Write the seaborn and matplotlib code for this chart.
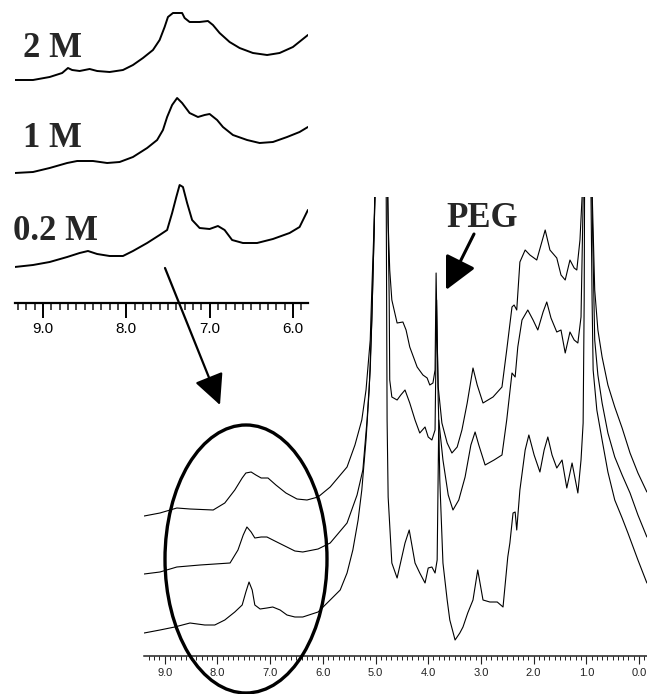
import numpy as np
import pandas as pd
import matplotlib
matplotlib.use("Agg")
import matplotlib.pyplot as plt
import seaborn as sns
from matplotlib.patches import Ellipse
from matplotlib.ticker import FixedLocator, FixedFormatter, MultipleLocator

# ---------------- data (chemical shift in ppm, intensity in a.u.) ----------------
main_2M_ppm = [9.39, 9.09, 8.77, 8.52, 8.08, 7.86, 7.67, 7.53, 7.46, 7.36, 7.27, 7.17, 7.04, 6.89, 6.70,
               6.49, 6.30, 6.09, 5.86, 5.54, 5.39, 5.26, 5.18, 5.10, 5.07, 5.03, 4.99, 4.95, 4.82, 4.78,
               4.76, 4.73, 4.69, 4.59, 4.48, 4.42, 4.35, 4.21, 4.10, 4.02, 3.97, 3.91, 3.87, 3.85, 3.83,
               3.81, 3.74, 3.64, 3.55, 3.45, 3.36, 3.26, 3.15, 3.07, 2.96, 2.77, 2.60, 2.51, 2.41, 2.37,
               2.32, 2.26, 2.16, 2.07, 1.94, 1.78, 1.69, 1.56, 1.48, 1.40, 1.31, 1.23, 1.18, 1.12, 1.08,
               1.06, 1.03, 0.93, 0.91, 0.87, 0.84, 0.78, 0.70, 0.59, 0.46, 0.32, 0.17, 0.02, -0.15]
main_2M_int = [140, 143, 148, 147, 146, 153, 166, 178, 183, 184, 181, 178, 178, 171, 163,
               157, 156, 159, 169, 189, 211, 236, 266, 316, 366, 426, 506, 700, 700, 506,
               433, 386, 356, 333, 334, 326, 309, 289, 281, 278, 271, 273, 286, 383, 316,
               269, 233, 213, 203, 209, 226, 253, 288, 271, 253, 259, 269, 306, 349, 351,
               346, 394, 406, 401, 396, 426, 406, 398, 381, 376, 396, 388, 386, 416, 459,
               506, 700, 700, 506, 426, 366, 326, 299, 271, 249, 228, 203, 183, 164]

main_1M_ppm = [9.39, 9.09, 8.77, 8.33, 7.76, 7.61, 7.51, 7.44, 7.36, 7.29, 7.17, 7.06, 6.91, 6.72, 6.53,
               6.38, 6.09, 5.86, 5.54, 5.35, 5.24, 5.16, 5.10, 5.07, 5.03, 4.99, 4.95, 4.82, 4.78, 4.74,
               4.73, 4.69, 4.59, 4.52, 4.44, 4.35, 4.25, 4.16, 4.06, 4.00, 3.93, 3.87, 3.84, 3.81, 3.80,
               3.72, 3.62, 3.53, 3.42, 3.30, 3.19, 3.11, 3.04, 2.92, 2.75, 2.60, 2.51, 2.41, 2.35, 2.30,
               2.22, 2.11, 2.01, 1.92, 1.82, 1.75, 1.67, 1.56, 1.48, 1.40, 1.31, 1.23, 1.16, 1.10, 1.06,
               1.04, 1.01, 0.93, 0.91, 0.87, 0.84, 0.78, 0.70, 0.59, 0.46, 0.32, 0.17, 0.02, -0.15]
main_1M_int = [82, 84, 89, 91, 93, 106, 121, 129, 124, 118, 119, 119, 115, 110, 105,
               104, 107, 113, 133, 161, 186, 236, 286, 336, 416, 506, 700, 700, 506, 356,
               276, 259, 256, 261, 266, 253, 236, 223, 229, 219, 216, 226, 356, 256, 236,
               196, 161, 146, 156, 179, 211, 224, 211, 191, 196, 201, 236, 283, 279, 309,
               336, 346, 336, 326, 344, 354, 338, 324, 326, 303, 324, 316, 313, 339, 456,
               506, 700, 700, 506, 396, 316, 281, 253, 223, 199, 181, 163, 141, 119]

main_02M_ppm = [9.39, 9.09, 8.81, 8.52, 8.24, 8.05, 7.86, 7.67, 7.53, 7.46, 7.40, 7.34, 7.29, 7.19, 7.06,
                6.95, 6.81, 6.68, 6.53, 6.38, 6.09, 5.86, 5.67, 5.54, 5.43, 5.33, 5.26, 5.18, 5.12, 5.07,
                5.03, 4.99, 4.95, 4.82, 4.80, 4.78, 4.76, 4.69, 4.59, 4.50, 4.44, 4.36, 4.31, 4.25, 4.16,
                4.06, 4.00, 3.93, 3.87, 3.83, 3.81, 3.80, 3.78, 3.72, 3.64, 3.59, 3.49, 3.40, 3.34, 3.25,
                3.15, 3.06, 2.96, 2.83, 2.69, 2.58, 2.49, 2.45, 2.39, 2.35, 2.32, 2.26, 2.16, 2.09, 1.99,
                1.88, 1.80, 1.73, 1.65, 1.56, 1.46, 1.37, 1.27, 1.16, 1.10, 1.06, 1.04, 1.03, 0.99, 0.93,
                0.92, 0.89, 0.87, 0.80, 0.70, 0.59, 0.46, 0.32, 0.21, 0.02, -0.15]
main_02M_int = [23, 26, 29, 33, 31, 31, 36, 44, 51, 64, 74, 66, 51, 47, 48,
                49, 46, 41, 39, 39, 44, 56, 66, 83, 106, 136, 166, 216, 266, 336,
                416, 506, 700, 700, 506, 236, 159, 93, 78, 99, 113, 126, 111, 93, 83,
                73, 88, 89, 83, 96, 186, 236, 176, 93, 56, 36, 16, 23, 29, 43,
                56, 86, 56, 54, 54, 49, 99, 113, 143, 144, 126, 166, 206, 221, 201,
                184, 206, 219, 201, 188, 196, 168, 193, 163, 196, 233, 356, 506, 700, 700,
                506, 356, 286, 246, 216, 184, 156, 138, 123, 96, 73]

inset_2M_ppm = [9.34, 9.12, 8.92, 8.77, 8.70, 8.65, 8.56, 8.44, 8.35, 8.20, 8.04, 7.92, 7.80, 7.68, 7.60,
                7.54, 7.50, 7.44, 7.33, 7.30, 7.24, 7.12, 7.02, 6.96, 6.88, 6.76, 6.64, 6.48, 6.31, 6.16,
                6.00, 5.88, 5.82]
inset_2M_int = [223, 223, 226, 230, 235, 233, 232, 234, 232, 231, 233, 238, 245, 253, 263,
                276, 286, 290, 290, 285, 281, 281, 282, 278, 270, 261, 255, 250, 248, 250,
                256, 264, 268]

inset_1M_ppm = [9.34, 9.12, 8.92, 8.71, 8.59, 8.40, 8.23, 8.08, 7.92, 7.75, 7.63, 7.56, 7.51, 7.45, 7.39,
                7.33, 7.24, 7.14, 7.06, 7.00, 6.91, 6.84, 6.72, 6.55, 6.40, 6.24, 6.07, 5.92, 5.82]
inset_1M_int = [130, 131, 135, 140, 142, 142, 140, 141, 146, 155, 163, 173, 186, 198, 205,
                200, 190, 186, 188, 189, 183, 176, 168, 163, 160, 161, 166, 171, 176]

inset_02M_ppm = [9.34, 9.12, 8.92, 8.71, 8.56, 8.46, 8.35, 8.20, 8.04, 7.92, 7.75, 7.60, 7.51, 7.45, 7.40,
                 7.36, 7.32, 7.27, 7.21, 7.12, 7.00, 6.90, 6.82, 6.73, 6.60, 6.43, 6.24, 6.04, 5.92, 5.82]
inset_02M_int = [36, 38, 41, 46, 50, 52, 49, 47, 47, 52, 60, 68, 73, 90, 106,
                 118, 116, 100, 83, 75, 74, 77, 73, 63, 60, 60, 64, 70, 76, 93]

main_ticks = [9, 8, 7, 6, 5, 4, 3, 2, 1, 0]
main_tick_labels = ["9.0", "8.0", "7.0", "6.0", "5.0", "4.0", "3.0", "2.0", "1.0", "0.0"]
inset_ticks = [9, 8, 7, 6]
inset_tick_labels = ["9.0", "8.0", "7.0", "6.0"]
inset_labels = ["2 M", "1 M", "0.2 M"]

# ---------------- figure ----------------
sns.set_theme(style="white")
plt.rcParams['font.family'] = ['Liberation Sans', 'DejaVu Sans']

W, H = 647, 694
fig = plt.figure(figsize=(W / 100, H / 100), dpi=100)
fig.patch.set_facecolor("white")


def fr(x0, y_bottom, x1, y_top):
    return [x0 / W, 1 - y_bottom / H, (x1 - x0) / W, (y_bottom - y_top) / H]


# main spectrum
ax = fig.add_axes(fr(144, 656, 647, 197))
ax.patch.set_alpha(0)
for p, v in [(main_2M_ppm, main_2M_int), (main_1M_ppm, main_1M_int), (main_02M_ppm, main_02M_int)]:
    sns.lineplot(x=p, y=v, ax=ax, color="black", lw=0.8, sort=False, estimator=None)
ax.set_xlim(9.393, -0.152)
ax.set_ylim(0, 459)
for s in ["top", "left", "right"]:
    ax.spines[s].set_visible(False)
ax.spines["bottom"].set_linewidth(1.1)
ax.spines["bottom"].set_color("#222222")
ax.set_yticks([])
ax.xaxis.set_major_locator(FixedLocator(main_ticks))
ax.xaxis.set_major_formatter(FixedFormatter(main_tick_labels))
ax.xaxis.set_minor_locator(MultipleLocator(0.1))
ax.tick_params(axis="x", which="major", direction="out", length=6, width=0.8, pad=3.0,
               labelsize=8, colors="#222222", bottom=True)
ax.tick_params(axis="x", which="minor", direction="out", length=3, width=0.7, bottom=True, colors="#222222")
ax.set_xlabel("")
ax.set_ylabel("")

# inset (aromatic region)
ax2 = fig.add_axes(fr(15, 303, 308, 0))
ax2.patch.set_alpha(0)
for p, v in [(inset_2M_ppm, inset_2M_int), (inset_1M_ppm, inset_1M_int), (inset_02M_ppm, inset_02M_int)]:
    sns.lineplot(x=p, y=v, ax=ax2, color="black", lw=1.4, sort=False, estimator=None)
ax2.set_xlim(9.336, 5.819)
ax2.set_ylim(0, 303)
for s in ["top", "left", "right"]:
    ax2.spines[s].set_visible(False)
ax2.spines["bottom"].set_linewidth(1.6)
ax2.spines["bottom"].set_color("black")
ax2.set_yticks([])
ax2.xaxis.set_major_locator(FixedLocator(inset_ticks))
ax2.xaxis.set_major_formatter(FixedFormatter(inset_tick_labels))
ax2.xaxis.set_minor_locator(MultipleLocator(0.1))
ax2.tick_params(axis="x", which="major", direction="out", length=10.5, width=1.4, pad=3.5,
                labelsize=11, colors="black", bottom=True)
ax2.tick_params(axis="x", which="minor", direction="out", length=5, width=1.2, bottom=True)
ax2.set_xlabel("")
ax2.set_ylabel("")

# concentration labels
label_pos = [(23, 57), (23, 147), (13, 240)]
for txt, (px, py) in zip(inset_labels, label_pos):
    fig.text(px / W, 1 - py / H, txt, fontsize=25, fontweight="bold",
             family=["Liberation Serif", "DejaVu Serif"], ha="left", va="baseline")

# PEG label and arrow
fig.text(482 / W, 1 - 227 / H, "PEG", fontsize=25, fontweight="bold",
         family=["Liberation Serif", "DejaVu Serif"], ha="center", va="baseline")
ax.annotate("", xy=(446, H - 290), xycoords="figure pixels",
            xytext=(474, H - 234), textcoords="figure pixels",
            arrowprops=dict(arrowstyle="-|>,head_length=0.5,head_width=0.25", mutation_scale=40,
                            lw=2.2, color="black", shrinkA=0, shrinkB=0))

# arrow from inset to ellipse
ax.annotate("", xy=(220, H - 405), xycoords="figure pixels",
            xytext=(165, H - 268), textcoords="figure pixels",
            arrowprops=dict(arrowstyle="-|>,head_length=0.45,head_width=0.22", mutation_scale=42,
                            lw=1.6, color="black", shrinkA=0, shrinkB=0), annotation_clip=False)

# ellipse around aromatic region
ell = Ellipse((246 / W, 1 - 559 / H), 162 / W, 268 / H, transform=fig.transFigure,
              fill=False, lw=2.4, edgecolor="black", zorder=10)
fig.add_artist(ell)

fig.savefig("out.png", dpi=100, facecolor="white")
